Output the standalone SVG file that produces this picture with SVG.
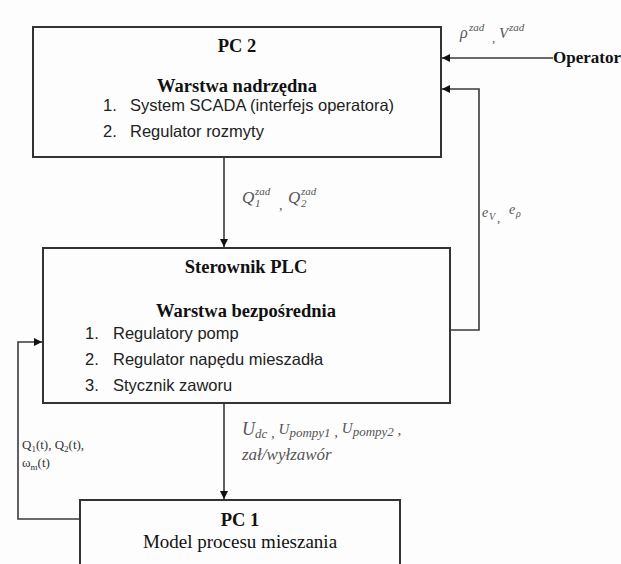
<svg xmlns="http://www.w3.org/2000/svg" width="621" height="564" viewBox="0 0 621 564">
<style>
.box{fill:none;stroke:#333;stroke-width:2}
.conn{fill:none;stroke:#3a3a3a;stroke-width:1.6}
.title{font-family:"Liberation Serif",serif;font-weight:bold;font-size:18.5px;fill:#111;text-anchor:middle}
.sub{font-family:"Liberation Serif",serif;font-weight:bold;font-size:18.5px;fill:#111;text-anchor:middle}
.item{font-family:"Liberation Sans",sans-serif;font-size:16.5px;fill:#222}
.plain{font-family:"Liberation Serif",serif;font-size:19px;fill:#111;text-anchor:middle}
.op{font-family:"Liberation Serif",serif;font-weight:bold;font-size:17px;fill:#111}
.m{font-family:"Liberation Serif",serif;font-style:italic;fill:#555}
.sig{font-family:"Liberation Serif",serif;font-size:13px;fill:#333}
</style>
<defs>
<marker id="ah" viewBox="0 0 10 10" refX="10" refY="5" markerWidth="9" markerHeight="8" markerUnits="userSpaceOnUse" orient="auto">
<path d="M0,0 L10,5 L0,10 z" fill="#111"/>
</marker>
</defs>
<rect width="621" height="564" fill="#fdfdfd"/>

<g id="pc2">
<rect class="box" x="33" y="27" width="408" height="130"/>
<text class="title" x="237" y="52">PC 2</text>
<text class="sub" x="237" y="92">Warstwa nadrzędna</text>
<text class="item" x="103" y="111">1.</text>
<text class="item" x="130" y="111">System SCADA (interfejs operatora)</text>
<text class="item" x="103" y="137">2.</text>
<text class="item" x="130" y="137">Regulator rozmyty</text>
</g>

<g id="plc">
<rect class="box" x="43" y="248" width="407" height="155"/>
<text class="title" x="246" y="273">Sterownik PLC</text>
<text class="sub" x="246" y="317">Warstwa bezpośrednia</text>
<text class="item" x="85" y="339">1.</text>
<text class="item" x="113" y="339">Regulatory pomp</text>
<text class="item" x="85" y="365">2.</text>
<text class="item" x="113" y="365">Regulator napędu mieszadła</text>
<text class="item" x="85" y="391">3.</text>
<text class="item" x="113" y="391">Stycznik zaworu</text>
</g>

<g id="pc1">
<rect class="box" x="80" y="500" width="320" height="80"/>
<text class="title" x="240" y="526">PC 1</text>
<text class="plain" x="240" y="548">Model procesu mieszania</text>
</g>

<g id="operator">
<text class="op" x="553" y="63">Operator</text>
</g>

<g id="connectors">
<line class="conn" x1="553" y1="58" x2="442" y2="58" marker-end="url(#ah)"/>
<path class="conn" d="M450 330 H479 V89 H442" marker-end="url(#ah)"/>
<line class="conn" x1="224" y1="158" x2="224" y2="247" marker-end="url(#ah)"/>
<line class="conn" x1="224" y1="404" x2="224" y2="499" marker-end="url(#ah)"/>
<path class="conn" d="M80 519 H18 V342 H42" marker-end="url(#ah)"/>
</g>

<g id="labels">
<text class="m" font-size="16" x="460" y="38">ρ</text>
<text class="m" font-size="11" x="469" y="31">zad</text>
<text class="m" font-size="13" x="492" y="42">,</text>
<text class="m" font-size="15" x="499" y="38">V</text>
<text class="m" font-size="11" x="509" y="31">zad</text>

<text class="m" font-size="17" x="242" y="203">Q</text>
<text class="m" font-size="11" x="255" y="195">zad</text>
<text class="m" font-size="11" x="255" y="207">1</text>
<text class="m" font-size="14" x="279" y="210">,</text>
<text class="m" font-size="17" x="288" y="203">Q</text>
<text class="m" font-size="11" x="301" y="195">zad</text>
<text class="m" font-size="11" x="301" y="207">2</text>

<text class="m" font-size="14" x="482" y="217">e</text>
<text class="m" font-size="10" x="489" y="220">V</text>
<text class="m" font-size="13" x="497" y="222">,</text>
<text class="m" font-size="14" x="509" y="214">e</text>
<text class="m" font-size="10" x="516" y="217">ρ</text>

<text class="m" font-size="18" x="242" y="435">U<tspan font-size="13" dy="3">dc</tspan><tspan font-size="15" dy="0"> , </tspan><tspan font-size="15" dy="-4">U</tspan><tspan font-size="13" dy="3">pompy1</tspan><tspan font-size="15" dy="0"> , </tspan><tspan font-size="15" dy="-4">U</tspan><tspan font-size="13" dy="3">pompy2</tspan><tspan font-size="15" dy="-1"> ,</tspan></text>
<text class="m" font-size="17" x="242" y="460">zał/wyłzawór</text>

<text class="sig" x="22" y="449">Q<tspan font-size="9" dy="3">1</tspan><tspan dy="-3">(t), Q</tspan><tspan font-size="9" dy="3">2</tspan><tspan dy="-3">(t),</tspan></text>
<text class="sig" x="22" y="467">ω<tspan font-size="9" dy="3">m</tspan><tspan dy="-3">(t)</tspan></text>
</g>
</svg>
